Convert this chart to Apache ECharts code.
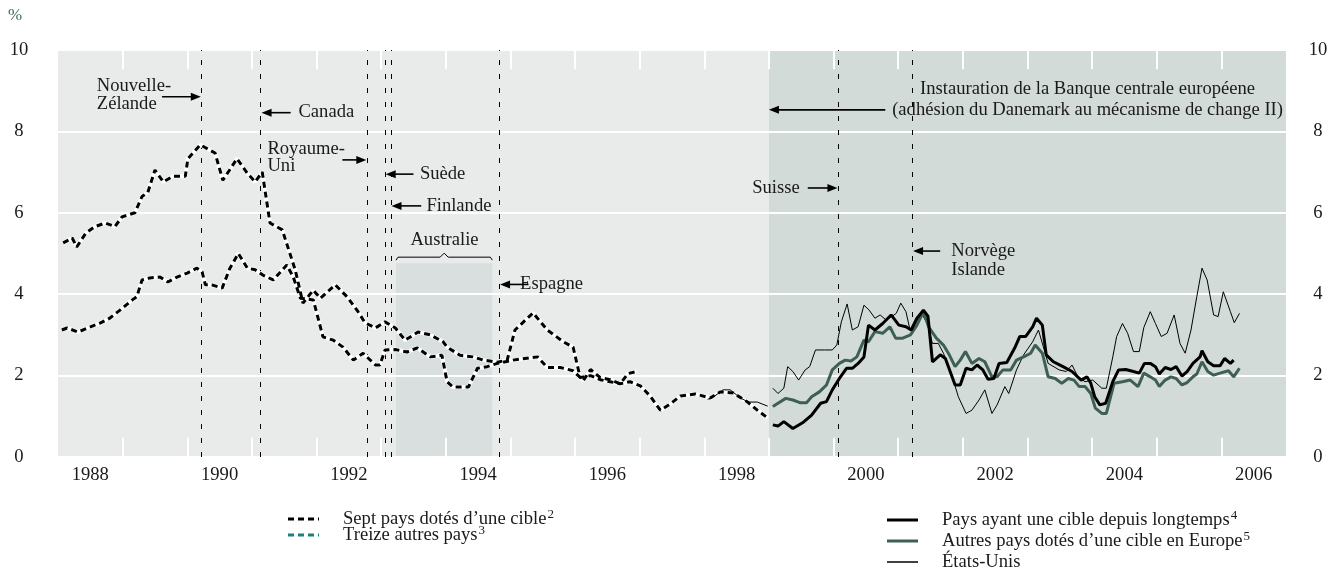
<!DOCTYPE html>
<html>
<head>
<meta charset="utf-8">
<title>Inflation</title>
<script src="https://cdn.jsdelivr.net/npm/echarts/dist/echarts.min.js"></script>
<style>
  html, body { margin: 0; padding: 0; background: #fff; }
  #chart { width: 1334px; height: 568px; }
</style>
</head>
<body>
<div id="chart"></div>
<script>
// x labels sit in the middle of each labelled year
const labelYears = [1988, 1990, 1992, 1994, 1996, 1998, 2000, 2002, 2004, 2006];
// short white ticks at each year boundary
const tickYears = [1989, 1990, 1991, 1992, 1993, 1994, 1995, 1996, 1997, 1998, 1999, 2000, 2001, 2002, 2003, 2004, 2005, 2006];

// dates of adoption of an inflation target (dashed verticals)
const targetDates = [1990.22, 1991.13, 1992.78, 1993.06, 1993.15, 1994.83, 2000.07, 2001.22];
const ecbStart = 1999.0;
const australia = [1993.23, 1994.72, 4.76];

// [year, %]
const septPays = [[1988.08,5.26],[1988.22,5.38],[1988.29,5.16],[1988.43,5.5],[1988.57,5.66],[1988.73,5.75],[1988.88,5.66],[1988.99,5.9],[1989.19,6.0],[1989.30,6.4],[1989.39,6.5],[1989.50,7.05],[1989.63,6.76],[1989.78,6.9],[1989.97,6.9],[1990.01,7.33],[1990.20,7.67],[1990.35,7.54],[1990.43,7.47],[1990.55,6.8],[1990.77,7.33],[1990.93,6.97],[1991.05,6.76],[1991.16,7.0],[1991.28,5.75],[1991.47,5.58],[1991.67,4.6],[1991.79,3.78],[1991.95,4.1],[1992.06,3.9],[1992.29,4.23],[1992.47,3.94],[1992.63,3.6],[1992.75,3.3],[1992.91,3.17],[1993.06,3.32],[1993.22,3.17],[1993.37,2.87],[1993.57,3.07],[1993.76,3.0],[1993.96,2.83],[1994.02,2.7],[1994.22,2.5],[1994.42,2.46],[1994.58,2.38],[1994.80,2.33],[1994.95,2.38],[1995.07,3.12],[1995.35,3.54],[1995.57,3.12],[1995.82,2.83],[1995.97,2.7],[1996.08,1.95],[1996.24,2.0],[1996.39,1.9],[1996.54,1.85],[1996.70,1.8],[1996.85,1.85],[1997.01,1.75],[1997.16,1.5],[1997.32,1.15],[1997.47,1.3],[1997.63,1.5],[1997.86,1.55],[1998.09,1.45],[1998.25,1.6],[1998.45,1.57],[1998.67,1.35],[1998.82,1.15],[1998.98,0.96]];

const treizePays = [[1988.06,3.12],[1988.14,3.17],[1988.31,3.07],[1988.46,3.17],[1988.65,3.29],[1988.80,3.41],[1988.96,3.61],[1989.15,3.86],[1989.22,3.94],[1989.30,4.35],[1989.42,4.4],[1989.58,4.42],[1989.70,4.3],[1989.84,4.42],[1990.00,4.52],[1990.15,4.64],[1990.23,4.55],[1990.28,4.23],[1990.38,4.23],[1990.54,4.15],[1990.66,4.64],[1990.79,5.0],[1990.93,4.64],[1991.05,4.6],[1991.17,4.47],[1991.33,4.35],[1991.54,4.72],[1991.64,4.42],[1991.75,3.9],[1991.95,3.86],[1992.10,2.95],[1992.26,2.87],[1992.41,2.7],[1992.57,2.38],[1992.72,2.55],[1992.91,2.26],[1992.98,2.26],[1993.06,2.63],[1993.22,2.64],[1993.40,2.58],[1993.56,2.68],[1993.76,2.46],[1993.94,2.5],[1994.02,1.85],[1994.11,1.72],[1994.35,1.72],[1994.49,2.18],[1994.64,2.22],[1994.80,2.3],[1995.04,2.38],[1995.42,2.46],[1995.57,2.2],[1995.77,2.2],[1995.97,2.12],[1996.13,1.88],[1996.24,2.15],[1996.39,1.95],[1996.54,1.9],[1996.70,1.8],[1996.82,2.05],[1996.95,2.1]];

const ciblesAnciennes = [[1999.06,0.79],[1999.14,0.76],[1999.23,0.87],[1999.37,0.70],[1999.52,0.84],[1999.66,1.03],[1999.80,1.32],[1999.89,1.36],[1999.98,1.65],[2000.09,1.93],[2000.20,2.18],[2000.29,2.18],[2000.38,2.30],[2000.47,2.46],[2000.54,3.24],[2000.64,3.12],[2000.76,3.28],[2000.89,3.49],[2001.01,3.24],[2001.12,3.20],[2001.20,3.12],[2001.29,3.41],[2001.39,3.61],[2001.46,3.46],[2001.53,2.34],[2001.65,2.51],[2001.73,2.42],[2001.88,1.77],[2001.96,1.77],[2002.05,2.18],[2002.14,2.14],[2002.22,2.26],[2002.31,2.14],[2002.39,1.91],[2002.48,1.93],[2002.56,2.30],[2002.68,2.32],[2002.80,2.67],[2002.88,2.96],[2002.97,2.96],[2003.08,3.20],[2003.14,3.41],[2003.23,3.24],[2003.29,2.51],[2003.40,2.34],[2003.55,2.22],[2003.69,2.10],[2003.83,1.89],[2003.92,1.97],[2003.98,1.81],[2004.04,1.48],[2004.12,1.28],[2004.21,1.32],[2004.32,1.85],[2004.41,2.14],[2004.52,2.15],[2004.64,2.10],[2004.73,2.06],[2004.81,2.30],[2004.90,2.30],[2004.98,2.22],[2005.04,2.04],[2005.13,2.20],[2005.22,2.15],[2005.30,2.22],[2005.39,1.99],[2005.47,2.10],[2005.56,2.30],[2005.67,2.46],[2005.70,2.61],[2005.79,2.34],[2005.88,2.24],[2005.98,2.24],[2006.05,2.42],[2006.14,2.30],[2006.19,2.38]];

const autresEurope = [[1999.06,1.24],[1999.14,1.32],[1999.26,1.44],[1999.37,1.40],[1999.49,1.33],[1999.58,1.33],[1999.66,1.48],[1999.78,1.60],[1999.89,1.77],[1999.98,2.14],[2000.09,2.30],[2000.18,2.38],[2000.27,2.36],[2000.36,2.46],[2000.47,2.87],[2000.54,2.83],[2000.64,3.08],[2000.76,3.04],[2000.87,3.20],[2000.96,2.92],[2001.07,2.92],[2001.19,3.00],[2001.29,3.24],[2001.39,3.57],[2001.47,3.20],[2001.59,2.92],[2001.70,2.75],[2001.79,2.51],[2001.88,2.22],[2001.96,2.38],[2002.04,2.59],[2002.14,2.30],[2002.25,2.42],[2002.34,2.34],[2002.45,1.97],[2002.53,1.97],[2002.62,2.14],[2002.74,2.14],[2002.83,2.38],[2002.94,2.46],[2003.05,2.55],[2003.12,2.75],[2003.23,2.55],[2003.32,1.97],[2003.43,1.93],[2003.53,1.81],[2003.63,1.93],[2003.72,1.89],[2003.80,1.73],[2003.89,1.73],[2003.98,1.56],[2004.05,1.20],[2004.15,1.07],[2004.22,1.07],[2004.34,1.81],[2004.47,1.85],[2004.59,1.89],[2004.71,1.73],[2004.80,2.06],[2004.90,1.97],[2004.98,1.89],[2005.04,1.73],[2005.13,1.89],[2005.22,1.97],[2005.30,1.93],[2005.39,1.77],[2005.47,1.83],[2005.56,1.97],[2005.62,2.04],[2005.70,2.34],[2005.79,2.10],[2005.88,2.01],[2005.98,2.06],[2006.11,2.12],[2006.19,1.97],[2006.28,2.18]];

const etatsUnis1998 = [[1998.05,1.42],[1998.12,1.45],[1998.29,1.65],[1998.40,1.65],[1998.56,1.45],[1998.68,1.35],[1998.82,1.35],[1998.98,1.25]];

const etatsUnis = [[1999.06,1.69],[1999.14,1.56],[1999.23,1.69],[1999.29,2.22],[1999.37,2.10],[1999.46,1.89],[1999.56,2.14],[1999.63,2.22],[1999.72,2.63],[1999.86,2.63],[1999.98,2.63],[2000.05,2.75],[2000.12,3.32],[2000.21,3.76],[2000.29,3.12],[2000.38,3.20],[2000.47,3.73],[2000.55,3.61],[2000.64,3.41],[2000.72,3.49],[2000.81,3.37],[2000.90,3.45],[2000.97,3.53],[2001.04,3.78],[2001.12,3.57],[2001.18,3.14],[2001.27,3.20],[2001.36,3.53],[2001.45,3.28],[2001.53,2.79],[2001.62,2.79],[2001.70,2.55],[2001.82,2.06],[2001.93,1.48],[2002.05,1.07],[2002.14,1.15],[2002.25,1.40],[2002.34,1.65],[2002.45,1.07],[2002.53,1.28],[2002.65,1.73],[2002.71,1.56],[2002.83,2.14],[2002.94,2.51],[2003.08,2.83],[2003.17,3.12],[2003.32,2.30],[2003.49,2.14],[2003.60,2.10],[2003.69,2.26],[2003.78,1.97],[2003.89,1.85],[2004.01,1.89],[2004.15,1.69],[2004.22,1.69],[2004.32,2.46],[2004.38,2.96],[2004.47,3.28],[2004.55,3.04],[2004.64,2.59],[2004.73,2.59],[2004.80,3.18],[2004.90,3.57],[2004.98,3.28],[2005.07,2.96],[2005.16,3.04],[2005.27,3.49],[2005.36,2.79],[2005.44,2.55],[2005.53,3.12],[2005.62,3.94],[2005.70,4.64],[2005.78,4.35],[2005.88,3.49],[2005.95,3.45],[2006.03,4.06],[2006.14,3.57],[2006.20,3.30],[2006.28,3.53]];

const FONT = '"Liberation Serif", "Times New Roman", serif';
const FS = 18.6;
const INK = '#1a1a1a';
const GREEN = '#3d5f56';
const TICK = 0.47; // tick length in % units (about 19 px)

const chart = echarts.init(document.getElementById('chart'), null, { renderer: 'canvas' });

function dashedSeries(name, data) {
  return [
    { name: name + '-fond', type: 'line', data: data, showSymbol: false, silent: true, z: 3,
      lineStyle: { color: '#ffffff', width: 4 } },
    { name: name, type: 'line', data: data, showSymbol: false, silent: true, z: 4,
      lineStyle: { color: '#000000', width: 3, type: [6, 4] } }
  ];
}

function solid(name, data, color, width) {
  return { name: name, type: 'line', data: data, showSymbol: false, silent: true, z: 5,
    lineStyle: { color: color, width: width } };
}

const tickSegments = [];
tickYears.forEach(y => {
  tickSegments.push([{ coord: [y, 0] }, { coord: [y, TICK] }]);
  tickSegments.push([{ coord: [y, 10 - TICK] }, { coord: [y, 10] }]);
});

const option = {
  animation: false,
  grid: { left: 58, right: 48, top: 50, bottom: 111 },
  xAxis: {
    type: 'value', min: 1988, max: 2007, interval: 0.5, position: 'bottom',
    axisLine: { show: false }, axisTick: { show: false }, splitLine: { show: false },
    axisLabel: {
      margin: 9, color: INK, fontFamily: FONT, fontSize: FS,
      formatter: v => labelYears.indexOf(v - 0.5) >= 0 ? String(v - 0.5) : ''
    }
  },
  yAxis: [
    {
      type: 'value', min: 0, max: 10, interval: 2, position: 'left', z: 1,
      axisLine: { show: false }, axisTick: { show: false },
      splitLine: { show: true, lineStyle: { color: '#ffffff', width: 2 } },
      axisLabel: { margin: 39, align: 'center', color: INK, fontFamily: FONT, fontSize: FS }
    },
    {
      type: 'value', min: 0, max: 10, interval: 2, position: 'right',
      axisLine: { show: false }, axisTick: { show: false }, splitLine: { show: false },
      axisLabel: { margin: 32, align: 'center', color: INK, fontFamily: FONT, fontSize: FS }
    }
  ],
  series: [
    {
      name: 'fond', type: 'line', data: [], silent: true, z: 0,
      markArea: {
        silent: true, z: 0,
        data: [
          [{ xAxis: 1988, yAxis: 0, itemStyle: { color: '#e8ebea' } }, { xAxis: ecbStart, yAxis: 10 }],
          [{ xAxis: ecbStart, yAxis: 0, itemStyle: { color: '#d3dbd8' } }, { xAxis: 2007, yAxis: 10 }],
          [{ xAxis: australia[0], yAxis: 0, itemStyle: { color: '#d9dfde' } }, { xAxis: australia[1], yAxis: australia[2] }]
        ]
      }
    },
    {
      name: 'graduations', type: 'line', data: [], silent: true, z: 2,
      markLine: {
        silent: true, z: 2, symbol: ['none', 'none'], animation: false,
        label: { show: false },
        lineStyle: { color: '#ffffff', width: 2, type: 'solid' },
        data: tickSegments
      }
    },
    {
      name: 'cibles', type: 'line', data: [], silent: true, z: 2,
      markLine: {
        silent: true, z: 2, symbol: ['none', 'none'], animation: false,
        label: { show: false },
        lineStyle: { color: '#000', width: 1, type: [5, 9] },
        data: targetDates.map(d => ({ xAxis: d }))
      }
    },
    ...dashedSeries('Sept pays dotés d’une cible', septPays),
    ...dashedSeries('Treize autres pays', treizePays),
    solid('États-Unis 1998', etatsUnis1998, '#000', 1),
    solid('États-Unis', etatsUnis, '#000', 1),
    solid('Autres pays dotés d’une cible en Europe', autresEurope, GREEN, 3),
    solid('Pays ayant une cible depuis longtemps', ciblesAnciennes, '#000', 3)
  ]
};

chart.setOption(option);

// annotations, placed in data coordinates
const arrows = [
  [1989.61, 1990.21, 8.85],
  [1991.60, 1991.15, 8.46],
  [1992.40, 1992.77, 7.30],
  [1993.50, 1993.07, 6.95],
  [1993.62, 1993.16, 6.17],
  [1995.28, 1994.84, 4.24],
  [2000.80, 1999.00, 8.53],
  [1999.60, 2000.06, 6.61],
  [2001.65, 2001.23, 5.06]
];
const notes = [
  ['Nouvelle-', 1988.60, 9.12, 'left'],
  ['Zélande', 1988.60, 8.67, 'left'],
  ['Canada', 1991.72, 8.48, 'left'],
  ['Royaume-', 1991.24, 7.57, 'left'],
  ['Uni', 1991.24, 7.15, 'left'],
  ['Suède', 1993.60, 6.95, 'left'],
  ['Finlande', 1993.70, 6.17, 'left'],
  ['Australie', 1993.98, 5.33, 'center'],
  ['Espagne', 1995.15, 4.25, 'left'],
  ['Instauration de la Banque centrale européene', 2003.93, 9.04, 'center'],
  ['(adhésion du Danemark au mécanisme de change II)', 2003.93, 8.53, 'center'],
  ['Suisse', 1998.74, 6.61, 'left'],
  ['Norvège', 2001.82, 5.06, 'left'],
  ['Islande', 2001.82, 4.59, 'left']
];

const toPx = (x, y) => chart.convertToPixel({ xAxisIndex: 0, yAxisIndex: 0 }, [x, y]);
const graphics = [];

notes.forEach(([t, x, y, a]) => {
  const p = toPx(x, y);
  graphics.push({ type: 'text', x: p[0], y: p[1], silent: true, z: 10,
    style: { text: t, font: FS + 'px ' + FONT, fill: INK, align: a, verticalAlign: 'middle' } });
});

arrows.forEach(([x0, x1, y]) => {
  const a = toPx(x0, y), b = toPx(x1, y);
  const dir = b[0] > a[0] ? 1 : -1;
  graphics.push({ type: 'line', silent: true, z: 10,
    shape: { x1: a[0], y1: a[1], x2: b[0] - dir * 6, y2: b[1] },
    style: { stroke: '#000', lineWidth: 1.6 } });
  graphics.push({ type: 'polygon', silent: true, z: 10,
    shape: { points: [[b[0], b[1]], [b[0] - dir * 10, b[1] - 4], [b[0] - dir * 10, b[1] + 4]] },
    style: { fill: '#000' } });
});

// accolade au-dessus de la zone Australie
(function () {
  const l = toPx(australia[0], 4.91), r = toPx(australia[1], 4.91);
  const m = (l[0] + r[0]) / 2, y = l[1];
  graphics.push({ type: 'polyline', silent: true, z: 10,
    shape: { points: [[l[0], y + 3], [l[0] + 2, y], [m - 4, y], [m, y - 4], [m + 4, y], [r[0] - 2, y], [r[0], y + 3]] },
    style: { stroke: '#000', lineWidth: 1, fill: null } });
})();

// unit
graphics.push({ type: 'text', x: 8, y: 16, silent: true,
  style: { text: '%', font: '17px ' + FONT, fill: '#3d6b64', align: 'left', verticalAlign: 'middle' } });

// legend
const legendItems = [
  { x: 288, y: 519, tx: 343, text: 'Sept pays dotés d’une cible', sup: '2', color: '#000', w: 3, dash: [6, 4] },
  { x: 288, y: 535, tx: 343, text: 'Treize autres pays', sup: '3', color: '#1f7f7b', w: 3, dash: [6, 4] },
  { x: 887, y: 520, tx: 942, text: 'Pays ayant une cible depuis longtemps', sup: '4', color: '#000', w: 3 },
  { x: 887, y: 541, tx: 942, text: 'Autres pays dotés d’une cible en Europe', sup: '5', color: GREEN, w: 3 },
  { x: 887, y: 562, tx: 942, text: 'États-Unis', sup: '', color: '#000', w: 1.5 }
];
legendItems.forEach(it => {
  graphics.push({ type: 'line', silent: true,
    shape: { x1: it.x, y1: it.y, x2: it.x + 31, y2: it.y },
    style: { stroke: it.color, lineWidth: it.w, lineDash: it.dash || null } });
  graphics.push({ type: 'text', x: it.tx, y: it.y, silent: true,
    style: {
      text: it.text + (it.sup ? '{s|' + it.sup + '}' : ''),
      font: FS + 'px ' + FONT, fill: INK, align: 'left', verticalAlign: 'middle',
      rich: { s: { font: '13px ' + FONT, fill: INK, verticalAlign: 'top', padding: [0, 0, 8, 1] } }
    } });
});

chart.setOption({ graphic: { elements: graphics } });
</script>
</body>
</html>
